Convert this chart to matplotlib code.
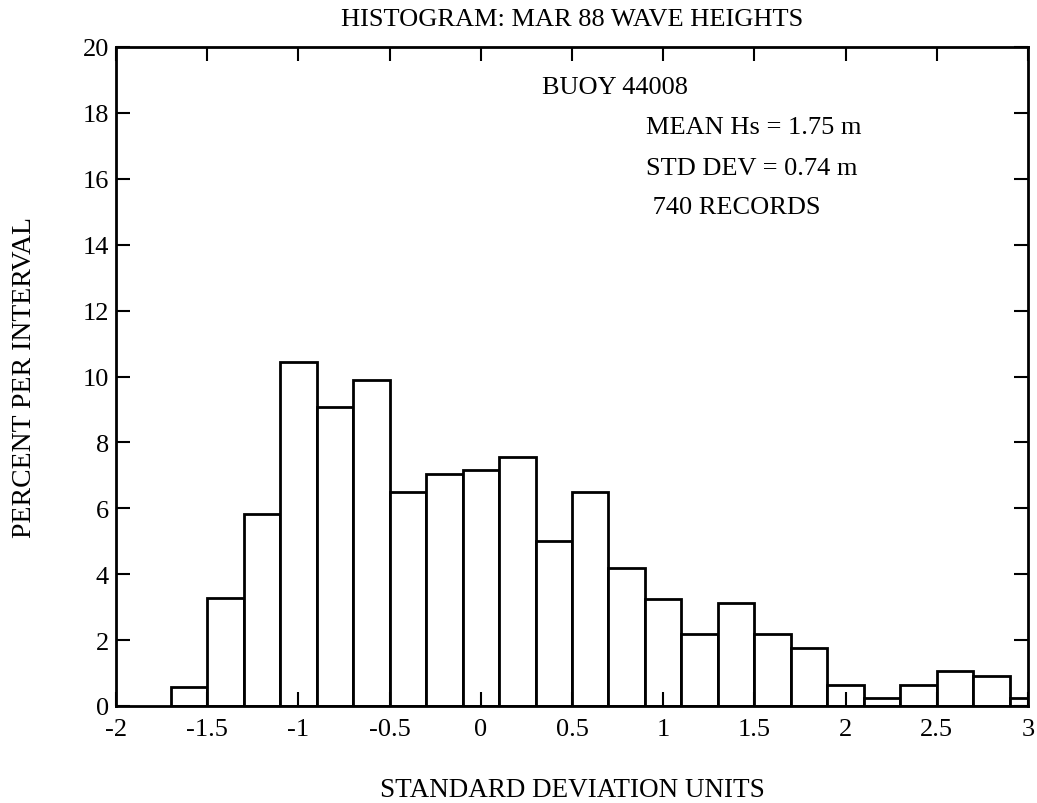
import numpy as np
import matplotlib
matplotlib.use("Agg")
import matplotlib.pyplot as plt

# Data: percent per 0.2-std-dev interval, bins starting at -1.7
bin_left_edge = -1.7
bin_width = 0.2
percent = [0.57, 3.27, 5.84, 10.43, 9.07, 9.89, 6.48, 7.03, 7.17, 7.57,
           5.00, 6.48, 4.19, 3.25, 2.20, 3.12, 2.18, 1.76, 0.65, 0.24,
           0.65, 1.06, 0.91, 0.23]
edges = bin_left_edge + bin_width * np.arange(len(percent) + 1)

xticks = [-2, -1.5, -1, -0.5, 0, 0.5, 1, 1.5, 2, 2.5, 3]
xticklabels = ["-2", "-1.5", "-1", "-0.5", "0", "0.5", "1", "1.5", "2", "2.5", "3"]
yticks = list(range(0, 21, 2))

title = "HISTOGRAM: MAR 88 WAVE HEIGHTS"
xlabel = "STANDARD DEVIATION UNITS"
ylabel = "PERCENT PER INTERVAL"
notes = ["BUOY 44008", "MEAN Hs = 1.75 m", "STD DEV = 0.74 m", " 740 RECORDS"]

plt.rcParams['font.family'] = ['Liberation Serif', 'DejaVu Serif']

fig = plt.figure(figsize=(10.37, 8.04), dpi=100)
ax = fig.add_axes([116/1037, 1 - 707/804, (1028-116)/1037, (707-48)/804])

ax.hist(edges[:-1], bins=edges, weights=percent, histtype='bar',
        facecolor='white', edgecolor='black', linewidth=2)

ax.set_xlim(-2, 3)
ax.set_ylim(0, 20)
ax.set_xticks(xticks)
ax.set_xticklabels(xticklabels)
ax.set_yticks(yticks)
ax.tick_params(direction='in', length=10, width=1.5, top=True, right=True,
               labelsize=19, colors='black')
ax.tick_params(axis='x', pad=9)
ax.tick_params(axis='y', pad=5)
for s in ax.spines.values():
    s.set_linewidth(2)

ax.set_title(title, fontsize=19, pad=16)
ax.set_xlabel(xlabel, fontsize=19.5, labelpad=26)
ax.set_ylabel(ylabel, fontsize=20, labelpad=33)

note_pos = [(0.334, 18.79), (0.906, 17.58), (0.906, 16.33), (0.906, 15.15)]
for (x, y), t in zip(note_pos, notes):
    ax.text(x, y, t, fontsize=19, ha='left', va='center')

fig.savefig("out.png", dpi=100)
